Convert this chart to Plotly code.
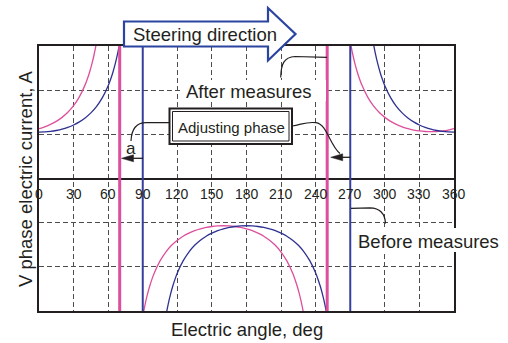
import plotly.graph_objects as go

# ---------------- data ----------------
# Before measures (blue)
blue_upper_left_deg = [0, 5, 10, 15, 20, 25, 30, 35, 40, 45, 50, 55, 60, 62, 64, 66, 68, 70, 72, 74]
blue_upper_left_val = [1.05, 1.054, 1.066, 1.087, 1.117, 1.159, 1.212, 1.282, 1.371, 1.485, 1.634, 1.831,
                       2.10, 2.237, 2.395, 2.582, 2.803, 3.070, 3.398, 3.809]
blue_upper_right_deg = [286, 288, 290, 292, 294, 296, 298, 300, 305, 310, 315, 320, 325, 330, 335, 340, 345, 350, 355, 360]
blue_upper_right_val = [3.809, 3.398, 3.070, 2.803, 2.582, 2.395, 2.237, 2.10, 1.831, 1.634, 1.485, 1.371,
                        1.282, 1.212, 1.159, 1.117, 1.087, 1.066, 1.054, 1.05]
blue_lower_deg = [106, 108, 110, 112, 114, 116, 118, 120, 125, 130, 135, 140, 145, 150, 155, 160, 165, 170, 175,
                  180, 185, 190, 195, 200, 205, 210, 215, 220, 225, 230, 235, 240, 242, 244, 246, 248, 250, 252, 254]
blue_lower_val = [-3.882, -3.463, -3.128, -2.856, -2.631, -2.441, -2.279, -2.14, -1.866, -1.665, -1.513, -1.397,
                  -1.306, -1.236, -1.181, -1.139, -1.108, -1.087, -1.074, -1.07, -1.074, -1.087, -1.108, -1.139,
                  -1.181, -1.236, -1.306, -1.397, -1.513, -1.665, -1.866, -2.14, -2.279, -2.441, -2.631, -2.856,
                  -3.128, -3.463, -3.882]

# After measures (pink)
pink_upper_left_deg = [0, 5, 10, 15, 20, 25, 30, 35, 40, 42, 44, 46, 48, 50, 52, 54]
pink_upper_left_val = [1.128, 1.170, 1.224, 1.294, 1.384, 1.499, 1.649, 1.848, 2.12, 2.258, 2.418, 2.606,
                       2.830, 3.099, 3.430, 3.846]
pink_upper_right_deg = [266, 268, 270, 272, 274, 276, 278, 280, 285, 290, 295, 300, 305, 310, 315, 320, 325,
                        330, 335, 340, 345, 350, 355, 360]
pink_upper_right_val = [3.846, 3.430, 3.099, 2.830, 2.606, 2.418, 2.258, 2.12, 1.848, 1.649, 1.499, 1.384,
                        1.294, 1.224, 1.170, 1.128, 1.097, 1.076, 1.064, 1.06, 1.064, 1.076, 1.097, 1.128]
pink_lower_deg = [86, 88, 90, 92, 94, 96, 98, 100, 105, 110, 115, 120, 125, 130, 135, 140, 145, 150, 155,
                  160, 165, 170, 175, 180, 185, 190, 195, 200, 205, 210, 215, 220, 222, 224, 226, 228, 230, 232, 234]
pink_lower_val = [-3.882, -3.463, -3.128, -2.856, -2.631, -2.441, -2.279, -2.14, -1.866, -1.665, -1.513, -1.397,
                  -1.306, -1.236, -1.181, -1.139, -1.108, -1.087, -1.074, -1.07, -1.074, -1.087, -1.108, -1.139,
                  -1.181, -1.236, -1.306, -1.397, -1.513, -1.665, -1.866, -2.14, -2.279, -2.441, -2.631, -2.856,
                  -3.128, -3.463, -3.882]

# switching phase lines
pink_phase_deg = [70, 250]
blue_phase_deg = [90, 270]

x_ticks = [0, 30, 60, 90, 120, 150, 180, 210, 240, 270, 300, 330, 360]
x_tick_labels = [str(t) for t in x_ticks]

# ---------------- style ----------------
PINK = "#dd4f9d"
BLUE = "#2e3192"
INK = "#231f20"
FONT = "Liberation Sans, Arial, sans-serif"

W, H = 508, 343
L, R, T, B = 39, 454, 46, 311


def px(x):
    return (x - L) / (R - L)


def py(y):
    return (B - y) / (B - T)


def pt(p):
    return f"{px(p[0]):.5f},{py(p[1]):.5f}"


def path(segs):
    # segs: list of (cmd, [points]) in pixel space -> paper path, one command per segment
    out = []
    for cmd, pts in segs:
        if cmd == "Z":
            out.append("Z")
        elif cmd == "C":
            for i in range(0, len(pts), 3):
                out.append("C" + " ".join(pt(p) for p in pts[i:i + 3]))
        else:
            for p in pts:
                out.append(cmd + pt(p))
    return " ".join(out)


fig = go.Figure()


def add_curve(xs, ys, color):
    fig.add_trace(go.Scatter(x=xs, y=ys, mode="lines",
                             line=dict(color=color, width=1.3, shape="spline", smoothing=0.6),
                             hoverinfo="skip", showlegend=False))


add_curve(pink_upper_left_deg, pink_upper_left_val, PINK)
add_curve(pink_upper_right_deg, pink_upper_right_val, PINK)
add_curve(pink_lower_deg, pink_lower_val, PINK)
add_curve(blue_upper_left_deg, blue_upper_left_val, BLUE)
add_curve(blue_upper_right_deg, blue_upper_right_val, BLUE)
add_curve(blue_lower_deg, blue_lower_val, BLUE)


def vlines(angles, color, width):
    xs, ys = [], []
    for a in angles:
        xs += [a, a, None]
        ys += [-3, 3, None]
    fig.add_trace(go.Scatter(x=xs, y=ys, mode="lines", line=dict(color=color, width=width),
                             hoverinfo="skip", showlegend=False))


vlines(blue_phase_deg, "#34409c", 2)
vlines(pink_phase_deg, PINK, 3)

shapes = []
# white backgrounds for labels
shapes.append(dict(type="rect", xref="paper", yref="paper", x0=px(183), x1=px(326), y0=py(101), y1=py(80),
                   fillcolor="white", line=dict(width=0), layer="above"))
shapes.append(dict(type="rect", xref="paper", yref="paper", x0=px(353), x1=px(504), y0=py(252), y1=py(228),
                   fillcolor="white", line=dict(width=0), layer="above"))
# steering block arrow
shapes.append(dict(type="path", xref="paper", yref="paper",
                   path=path([("M", [(124, 21.5)]),
                              ("L", [(268, 21.5), (268, 8), (295.5, 34), (268, 60.5), (268, 46.5), (124, 46.5)]),
                              ("Z", [])]),
                   fillcolor="white", line=dict(color="#2a44a0", width=2.2), layer="above"))
# adjusting phase double box
shapes.append(dict(type="rect", xref="paper", yref="paper", x0=px(169.5), x1=px(292), y0=py(144), y1=py(108.5),
                   fillcolor="white", line=dict(color=INK, width=2), layer="above"))
shapes.append(dict(type="rect", xref="paper", yref="paper", x0=px(172.5), x1=px(289), y0=py(141), y1=py(111.5),
                   fillcolor="white", line=dict(color=INK, width=1), layer="above"))

LEAD = dict(color=INK, width=1.2)
# leaders
shapes.append(dict(type="path", xref="paper", yref="paper", layer="above", line=LEAD,
                   path=path([("M", [(169.5, 122.7)]), ("L", [(146, 122.7)]),
                              ("C", [(136, 122.7), (131.5, 130), (131, 141)])])))
shapes.append(dict(type="path", xref="paper", yref="paper", layer="above", line=LEAD,
                   path=path([("M", [(292, 126)]),
                              ("C", [(302, 124.5), (306, 121.5), (316, 122.7),
                                     (327, 124), (330, 146), (340, 153.5)])])))
shapes.append(dict(type="path", xref="paper", yref="paper", layer="above", line=LEAD,
                   path=path([("M", [(280.7, 77.5)]), ("C", [(281, 64), (284, 57), (295, 56.5)]),
                              ("L", [(327, 57.3)])])))
shapes.append(dict(type="path", xref="paper", yref="paper", layer="above", line=LEAD,
                   path=path([("M", [(351, 208.3)]), ("L", [(370, 207.8)]),
                              ("C", [(380, 208), (385, 214), (385.5, 223.5)])])))
# phase shift arrows
for x_from, x_tip, yy in [(143, 121.5, 158.3), (350.5, 330.7, 157.3)]:
    shapes.append(dict(type="line", xref="paper", yref="paper", x0=px(x_from), x1=px(x_tip + 8),
                       y0=py(yy), y1=py(yy), line=dict(color=INK, width=1.3), layer="above"))
    shapes.append(dict(type="path", xref="paper", yref="paper", layer="above", fillcolor=INK,
                       line=dict(color=INK, width=0.5),
                       path=path([("M", [(x_tip, yy)]), ("L", [(x_tip + 12, yy - 3.5), (x_tip + 12, yy + 3.5)]),
                                  ("Z", [])])))

ann = []
for t, lab in zip(x_ticks, x_tick_labels):
    ann.append(dict(x=t, y=0, xref="x", yref="y", text=lab, showarrow=False, yshift=-15,
                    xanchor="center", yanchor="middle", font=dict(family=FONT, size=14, color=INK)))


def label(text, x, y, size=18.5, family=FONT, angle=0):
    ann.append(dict(x=px(x), y=py(y), xref="paper", yref="paper", text=text, showarrow=False,
                    xanchor="center", yanchor="middle", textangle=angle,
                    font=dict(family=family, size=size, color=INK)))


label("Steering direction", 204.5, 34.5)
label("After measures", 248.5, 91)
label("Adjusting phase", 231, 127, size=15)
label("a", 131, 148.5, size=17)
label("Before measures", 428.5, 241.5)
label("Electric angle, deg", 246.5, 329.5)
label("V phase electric current, A", 25.5, 178.5, angle=-90)

axis_common = dict(showgrid=True, gridcolor="#4d4d4d", gridwidth=1, griddash="5px,3px",
                   showline=True, mirror=True, linecolor=INK, linewidth=1.5,
                   showticklabels=False, ticks="", fixedrange=True)

fig.update_layout(
    width=W, height=H,
    margin=dict(l=L, r=W - R, t=T, b=H - B, autoexpand=False),
    paper_bgcolor="white", plot_bgcolor="white",
    xaxis=dict(range=[0, 360], tick0=0, dtick=30, zeroline=False, **axis_common),
    yaxis=dict(range=[-3, 3], tick0=0, dtick=1, zeroline=True, zerolinecolor=INK, zerolinewidth=1.5,
               **axis_common),
    shapes=shapes, annotations=ann, showlegend=False,
)

fig.write_html("out.html")
